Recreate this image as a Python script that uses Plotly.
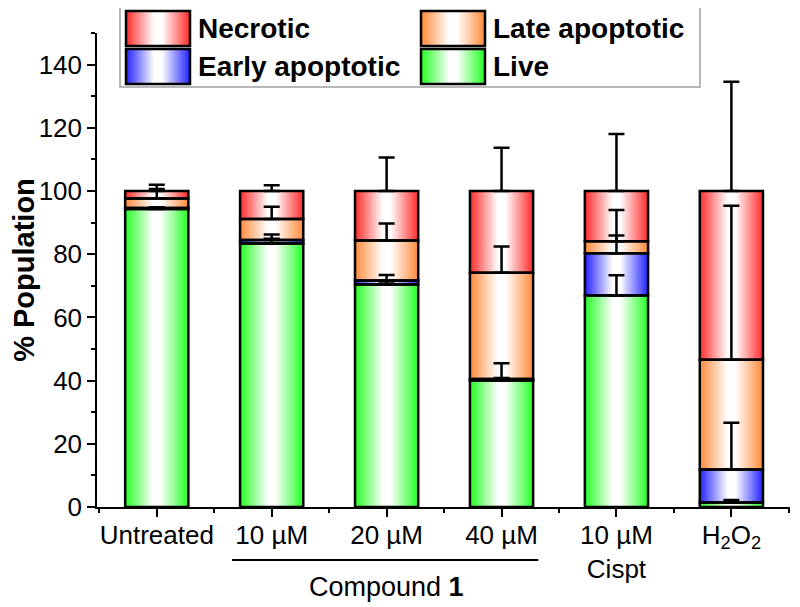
import plotly.graph_objects as go

# ---------------- data ----------------
categories = ["Untreated", "10 µM", "20 µM", "40 µM", "10 µM<br>Cispt", "H<sub>2</sub>O<sub>2</sub>"]
series_names = ["Live", "Early apoptotic", "Late apoptotic", "Necrotic"]
live = [94.3, 83.4, 70.4, 40.0, 66.9, 1.4]
early = [0.3, 1.1, 1.3, 0.5, 13.4, 10.5]
late = [3.0, 6.6, 12.6, 33.6, 3.8, 34.7]
necrotic = [2.4, 8.9, 15.7, 25.9, 15.9, 53.4]
live_err = [0.5, 1.5, 1.0, 5.5, 6.4, 0.8]
early_err = [0.2, 1.7, 1.7, 0.3, 5.6, 14.8]
late_err = [3.0, 3.9, 5.4, 8.3, 9.9, 48.7]
necrotic_err = [2.0, 1.8, 10.6, 13.7, 18.0, 34.6]
yticks = [0, 20, 40, 60, 80, 100, 120, 140]

# ---------------- styles ----------------
colors = {"Live": "#22ff22", "Early apoptotic": "#2222ff",
          "Late apoptotic": "#ff8a3a", "Necrotic": "#ff2a2a"}
FONT = "Liberation Sans, Arial, sans-serif"
BAR_W = 0.55
N_STEPS = 18

OFF = 8  # page body margin
W, H = 800 - OFF, 607 - OFF
# plot area in page pixels: x 97..790, y 33..507
PL, PR, PT, PB = 97, 790, 33, 507
ML, MT = PL - OFF, PT - OFF
MR, MB = W - (PR - OFF), H - (PB - OFF)
PW, PH = W - ML - MR, H - MT - MB


def mix(hexc, f):
    r, g, b = int(hexc[1:3], 16), int(hexc[3:5], 16), int(hexc[5:7], 16)
    r = round(255 + (r - 255) * f)
    g = round(255 + (g - 255) * f)
    b = round(255 + (b - 255) * f)
    return f"rgb({r},{g},{b})"


def grad_frac(t):
    # t: relative distance from centre (0 centre, 1 edge)
    f = (t - 0.12) / 0.88
    return max(0.0, min(1.0, f))


values = [live, early, late, necrotic]
errors = [live_err, early_err, late_err, necrotic_err]
xs = list(range(len(categories)))

# stacked bases
bases = []
cum = [0.0] * len(xs)
for v in values:
    bases.append(list(cum))
    cum = [c + a for c, a in zip(cum, v)]

fig = go.Figure()

# gradient fill layers
for name, v, b in zip(series_names, values, bases):
    for k in range(N_STEPS):
        wf = 1 - k / N_STEPS
        t = wf - 0.5 / N_STEPS
        fig.add_trace(go.Bar(
            x=xs, y=v, base=b, width=BAR_W * wf,
            marker=dict(color=mix(colors[name], grad_frac(t)), line=dict(width=0)),
            showlegend=False, hoverinfo="skip"))

# outlines + error bars
for name, v, b, e in zip(series_names, values, bases, errors):
    fig.add_trace(go.Bar(
        x=xs, y=v, base=b, width=BAR_W, name=name,
        marker=dict(color="rgba(0,0,0,0)", line=dict(color="black", width=2.5)),
        error_y=dict(type="data", symmetric=False, array=e, arrayminus=[0] * len(e),
                     color="black", thickness=2.5, width=8),
        showlegend=False))


# ---------------- custom legend (page pixel helpers) ----------------
def px_x(p):
    return (p - PL) / (PR - PL)


def px_y(p):
    return (PB - p) / (PB - PT)


shapes = []
shapes.append(dict(type="rect", xref="paper", yref="paper",
                   x0=px_x(120), x1=px_x(700), y0=px_y(87), y1=px_y(5),
                   line=dict(color="#a0a0a0", width=1.5), fillcolor="white", layer="above"))

legend_items = [("Necrotic", 126, 11, 46), ("Late apoptotic", 421, 11, 46),
                ("Early apoptotic", 126, 49, 84), ("Live", 421, 49, 84)]
annotations = []
SW = 64
for name, x0, y0, y1 in legend_items:
    n = 24
    for k in range(n):
        wf = 1 - k / n
        t = wf - 0.5 / n
        half = SW / 2 * wf
        cx = x0 + SW / 2
        shapes.append(dict(type="rect", xref="paper", yref="paper",
                           x0=px_x(cx - half), x1=px_x(cx + half),
                           y0=px_y(y1), y1=px_y(y0),
                           line=dict(width=0), fillcolor=mix(colors[name], grad_frac(t)),
                           layer="above"))
    shapes.append(dict(type="rect", xref="paper", yref="paper",
                       x0=px_x(x0), x1=px_x(x0 + SW), y0=px_y(y1), y1=px_y(y0),
                       line=dict(color="black", width=2.5), layer="above"))
    annotations.append(dict(xref="paper", yref="paper", x=px_x(x0 + SW + 6),
                            y=px_y((y0 + y1) / 2), text=f"<b>{name}</b>", showarrow=False,
                            xanchor="left", yanchor="middle",
                            font=dict(family=FONT, size=28, color="black")))

# compound bracket
shapes.append(dict(type="line", xref="x", yref="paper", x0=0.655, x1=3.32,
                   y0=px_y(560), y1=px_y(560), line=dict(color="black", width=2)))
annotations.append(dict(xref="x", yref="paper", x=2, y=px_y(587),
                        text="Compound <b>1</b>", showarrow=False,
                        xanchor="center", yanchor="middle",
                        font=dict(family=FONT, size=27, color="black")))

fig.update_layout(
    width=W, height=H,
    margin=dict(l=ML, r=MR, t=MT, b=MB, autoexpand=False),
    barmode="overlay",
    plot_bgcolor="white", paper_bgcolor="white",
    font=dict(family=FONT, size=26, color="black"),
    shapes=shapes, annotations=annotations,
    showlegend=False,
    xaxis=dict(range=[-0.52, 5.51], tickmode="array", tickvals=xs, ticktext=categories,
               showline=True, linecolor="black", linewidth=1.5, ticks="outside",
               ticklen=8, tickwidth=1.5, tickcolor="black", showgrid=False, zeroline=False,
               minor=dict(tick0=0.5, dtick=1, ticks="outside", ticklen=4,
                          tickcolor="black", tickwidth=1.5, showgrid=False),
               tickfont=dict(family=FONT, size=26), automargin=False,
               ticklabelstandoff=-4),
    yaxis=dict(range=[0, 150], tickmode="array", tickvals=yticks,
               showline=True, linecolor="black", linewidth=1.5, ticks="outside",
               ticklen=8, tickwidth=1.5, tickcolor="black", showgrid=False, zeroline=False,
               minor=dict(dtick=10, ticks="outside", ticklen=4, tickcolor="black",
                          tickwidth=1.5, showgrid=False),
               tickfont=dict(family=FONT, size=26), automargin=False,
               title=dict(text="<b>% Population</b>", font=dict(family=FONT, size=29),
                          standoff=4)),
)

fig.write_html("out.html")
